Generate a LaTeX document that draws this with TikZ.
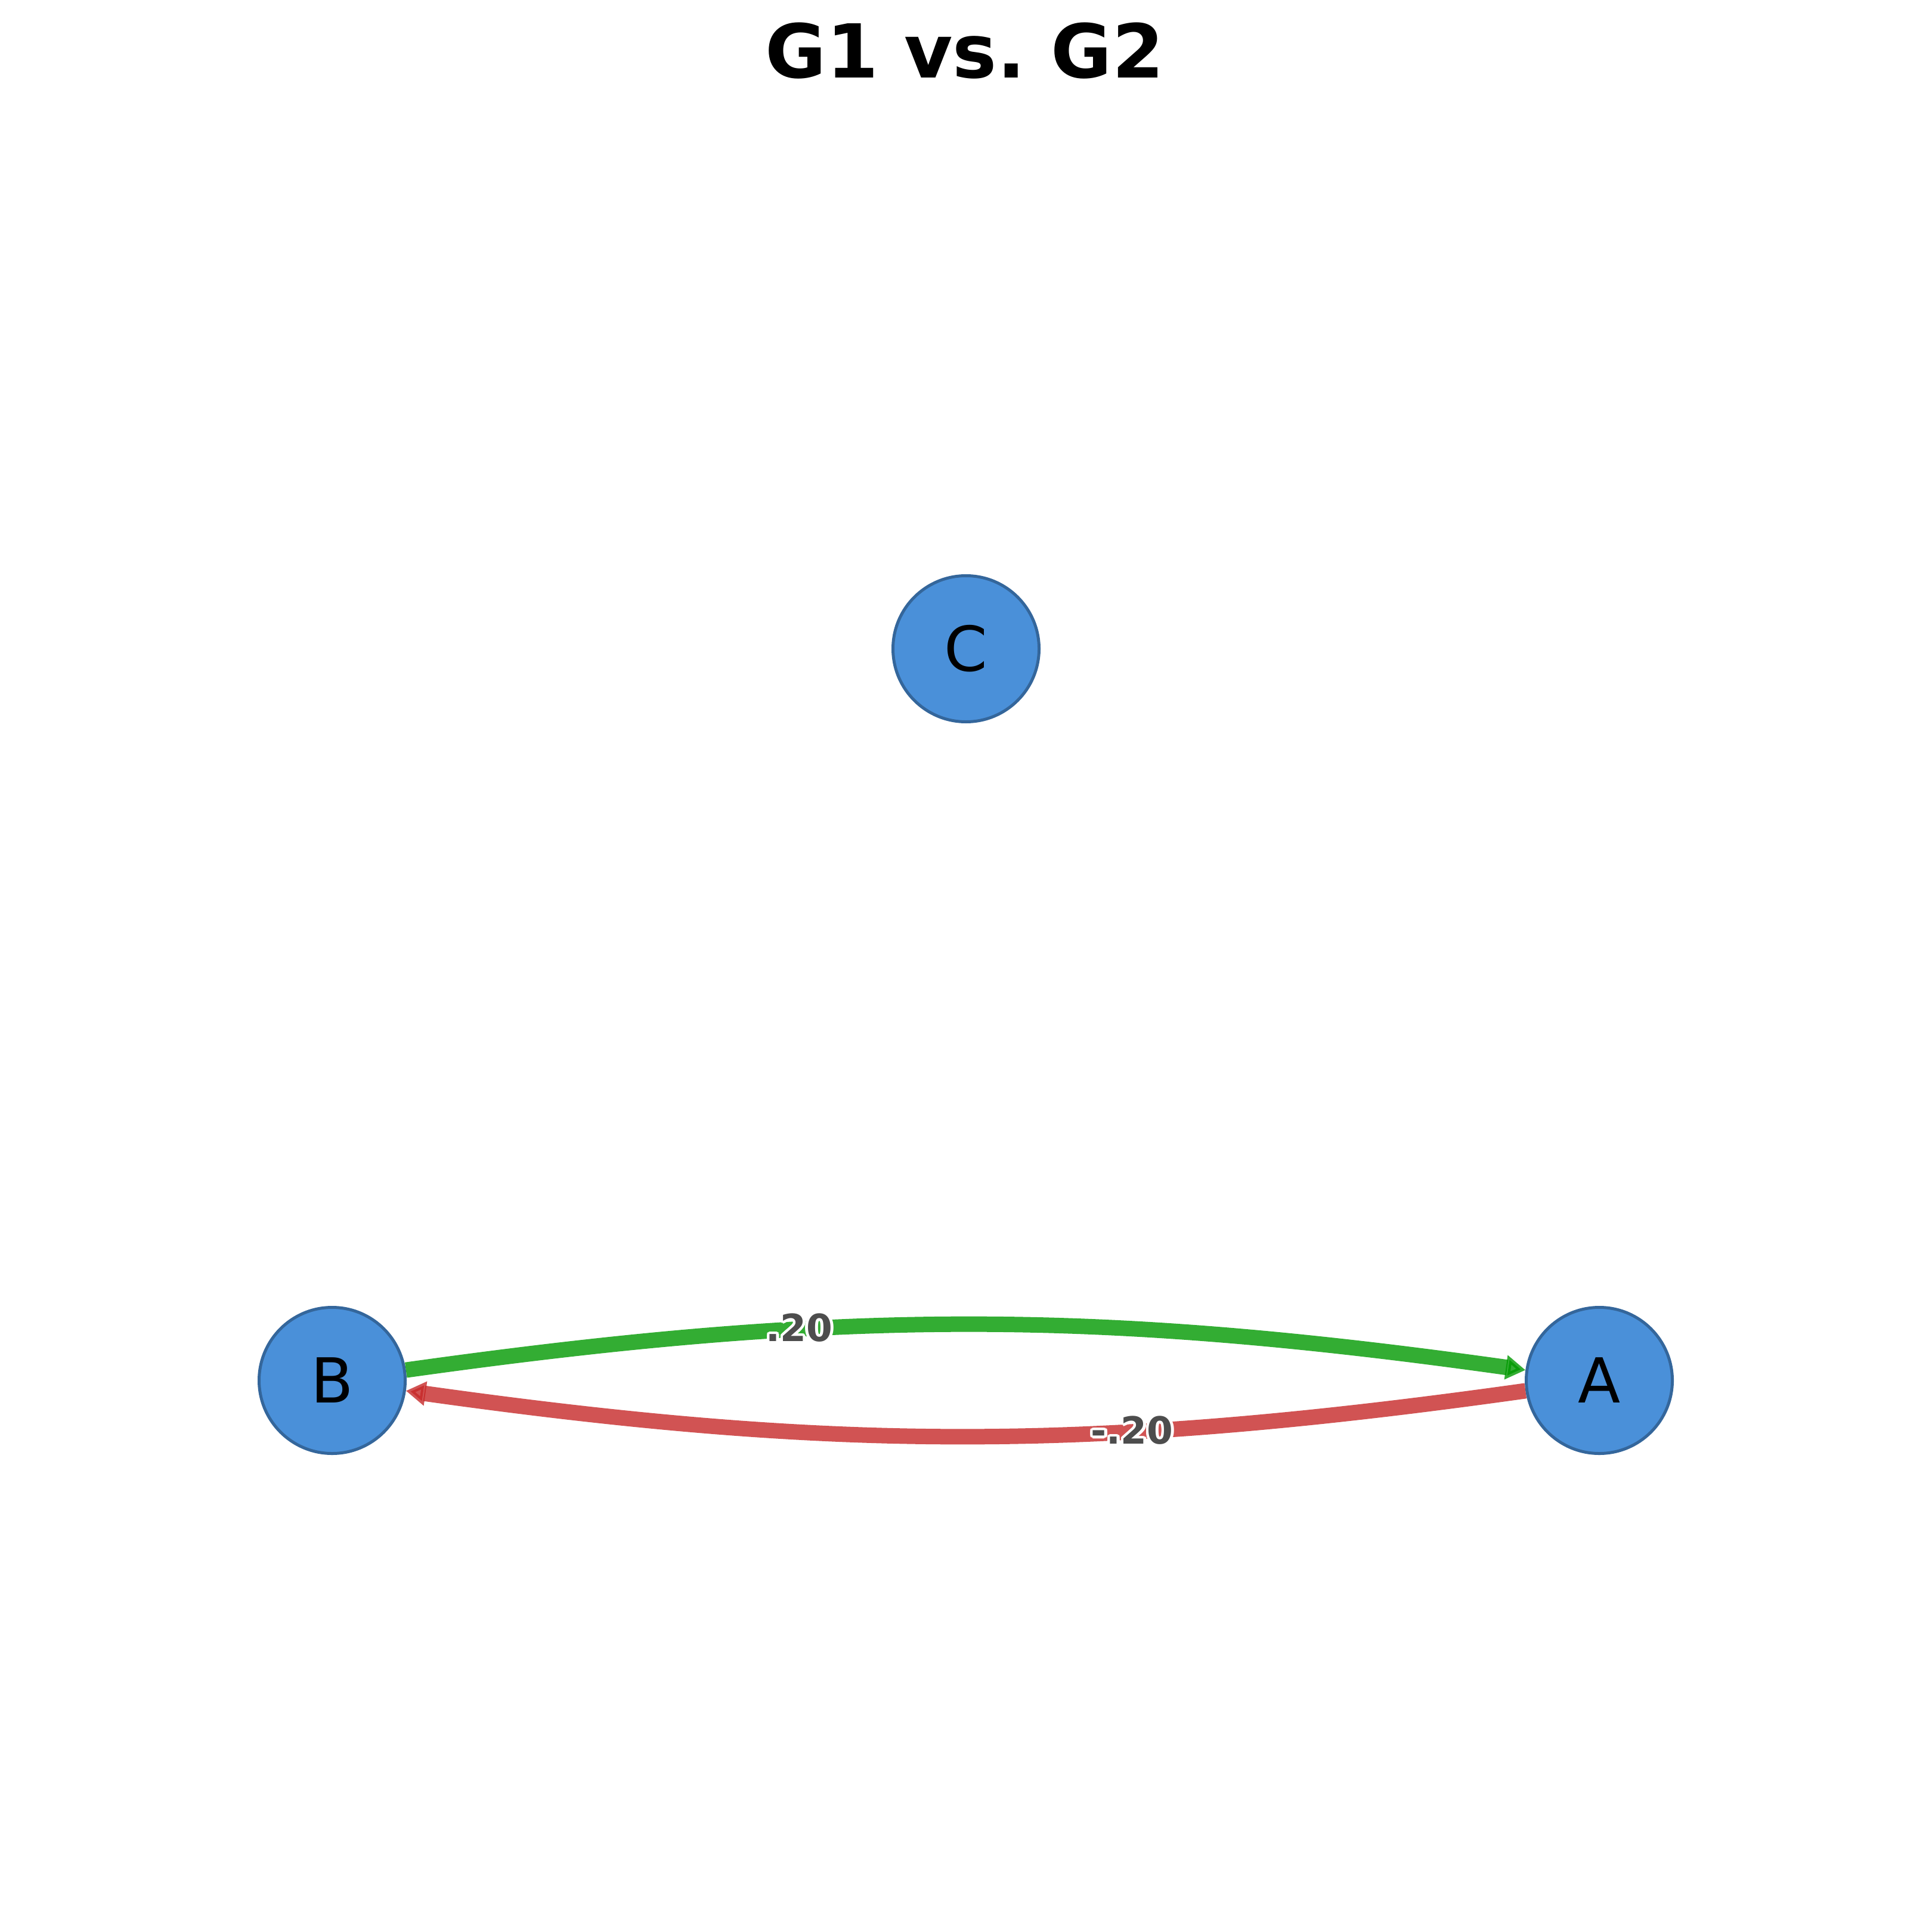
\documentclass[tikz,border=0pt]{standalone}
\usepackage{fontspec}
\setmainfont{DejaVu Sans}
\usepackage{contour}
\usetikzlibrary{arrows.meta,automata,positioning}
\definecolor{nodefill}{RGB}{74,144,217}
\definecolor{nodeedge}{RGB}{52,102,155}
\definecolor{plusedge}{RGB}{0,153,0}
\definecolor{minusedge}{RGB}{198,40,40}
\definecolor{labelgray}{RGB}{77,77,77}
\contourlength{1.3pt}
\contournumber{16}

\begin{document}
\begin{tikzpicture}[->,>={Triangle[length=0.33cm,width=0.39cm]},node distance=21.25cm]
\tikzstyle{every state}=[fill=nodefill,draw=nodeedge,text=black,minimum size=2.45cm,inner sep=0pt,line width=0.05cm,font=\fontsize{29.6}{32}\selectfont]
\tikzstyle{gain}=[draw=plusedge,line width=0.26cm,opacity=0.8]
\tikzstyle{loss}=[draw=minusedge,line width=0.26cm,opacity=0.8]
\tikzstyle{weight}=[text=labelgray,opacity=1,inner sep=0pt,pos=0.34,font=\bfseries\fontsize{17.9}{20}\selectfont]
\useasboundingbox (0,0) rectangle (32.4,-32.4);
\node[anchor=base,font=\bfseries\fontsize{35.5}{40}\selectfont] (title) at (16.18,-1.31) {G1 vs.\ G2};
\node[state] (B) at (5.57,-23.15) {B};
\node[state] (A) [right of=B] {A};
\node[state] (C) at (16.20,-10.88) {C};
\path 
(B) edge[gain,bend left=8] node[weight] {\contour{white}{.20}} (A)
(A) edge[loss,bend left=8] node[weight] {\contour{white}{-.20}} (B)
;
\end{tikzpicture}
\end{document}
